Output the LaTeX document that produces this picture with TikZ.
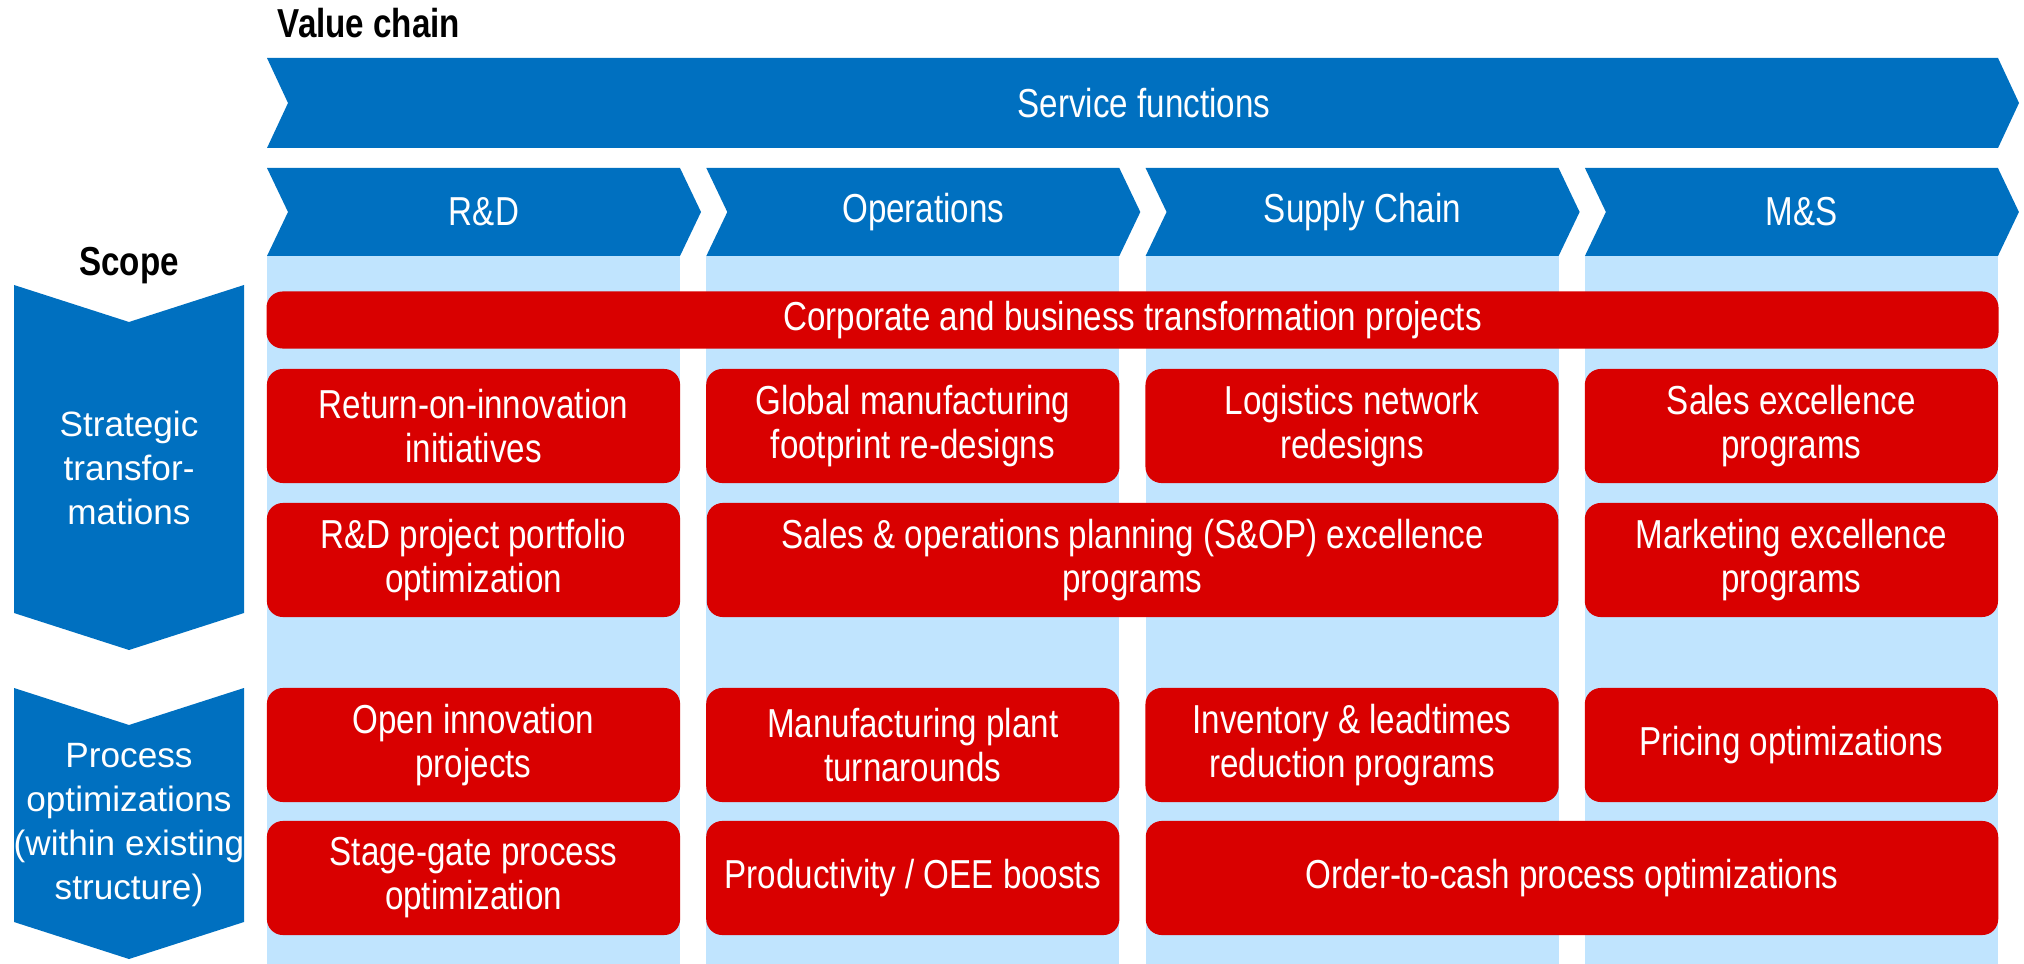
\documentclass[tikz,border=0pt]{standalone}
\usepackage{fontspec}
\setmainfont{Liberation Sans}[FakeStretch=0.82]
\newfontfamily\breit{Liberation Sans}
\definecolor{dunkelblau}{RGB}{0,112,192}
\definecolor{hellblau}{RGB}{192,228,254}
\definecolor{rot}{RGB}{217,0,0}
\tikzset{
  projekt/.style={fill=rot,text=white,rounded corners=0.16cm,inner sep=0pt,align=center,
    minimum width=4.13cm,minimum height=1.14cm,font=\fontsize{11.5}{12.5}\selectfont},
  kopf/.style={text=white,inner sep=0pt,font=\fontsize{11.5}{12.5}\selectfont},
  titel/.style={inner sep=0pt,font=\bfseries\fontsize{11.5}{13}\selectfont},
  seite/.style={text=white,inner sep=0pt,align=center,font=\breit\fontsize{10}{12.5}\selectfont}
}
\begin{document}
\begin{tikzpicture}[x=0.01cm,y=-0.01cm]
\def\b{413}
\def\s{439.3}
\def\d{21}
\def\e{37}
\def\kette#1#2#3#4{
\fill[dunkelblau] (#1,#3) -- (#2,#3) -- ({#2+\d},{(#3+#4)/2}) -- (#2,#4) -- (#1,#4) -- ({#1+\d},{(#3+#4)/2}) -- cycle;
}
\def\runter#1#2{
\fill[dunkelblau] (14,#1) -- (129,{#1+\e}) -- (244,#1) -- (244,#2) -- (129,{#2+\e}) -- (14,#2) -- cycle;
}
\useasboundingbox (0,0) rectangle (2024,964);

% Spalten
\foreach \i in {0,...,3}{
\fill[hellblau] ({267+\i*\s},256) rectangle ({267+\i*\s+\b},964);
}

% Wertkette
\kette{267}{1998}{58}{148}
\foreach \i in {0,...,3}{
\kette{267+\i*\s}{267+\i*\s+\b}{168}{256}
}
\node[titel,anchor=west] (valuechain) at (277,23) {Value chain};
\node[kopf] (service) at (1144,103) {Service functions};
\foreach \name/\text [count=\i from 0] in {rd/R\&D,ops/Operations,sc/Supply Chain,ms/M\&S}{
\node[kopf] (\name) at ({267+\i*\s+\b/2+\d/2},212) {\text};
}

% Scope
\runter{285}{613}
\runter{688}{922}
\node[titel] (scope) at (129,266) {Scope};
\node[seite] (strategic) at (129,468) {Strategic\\transfor-\\mations};
\node[seite] (process) at (129,825) {Process\\optimizations\\(within existing\\structure)};

% Projekte
\def\ya{426}
\def\yb{560}
\def\yc{745}
\def\yd{878}
\node[projekt,minimum width=17.31cm,minimum height=0.57cm] (corporate) at (1132.5,320) {Corporate and business transformation projects};

\node[projekt] (roi) at (473.5,\ya) {Return-on-innovation\\initiatives};
\node[projekt] (footprint) at (912.8,\ya) {Global manufacturing\\footprint re-designs};
\node[projekt] (logistics) at (1352.1,\ya) {Logistics network\\redesigns};
\node[projekt] (sales) at (1791.4,\ya) {Sales excellence\\programs};

\node[projekt] (portfolio) at (473.5,\yb) {R\&D project portfolio\\optimization};
\node[projekt,minimum width=8.51cm] (sop) at (1132.5,\yb) {Sales \& operations planning (S\&OP) excellence\\programs};
\node[projekt] (marketing) at (1791.4,\yb) {Marketing excellence\\programs};

\node[projekt] (openinno) at (473.5,\yc) {Open innovation\\projects};
\node[projekt] (plant) at (912.8,\yc) {Manufacturing plant\\turnarounds};
\node[projekt] (inventory) at (1352.1,\yc) {Inventory \& leadtimes\\reduction programs};
\node[projekt] (pricing) at (1791.4,\yc) {Pricing optimizations};

\node[projekt] (stagegate) at (473.5,\yd) {Stage-gate process\\optimization};
\node[projekt] (oee) at (912.8,\yd) {Productivity / OEE boosts};
\node[projekt,minimum width=8.52cm] (ordercash) at (1572,\yd) {Order-to-cash process optimizations};
\end{tikzpicture}
\end{document}
